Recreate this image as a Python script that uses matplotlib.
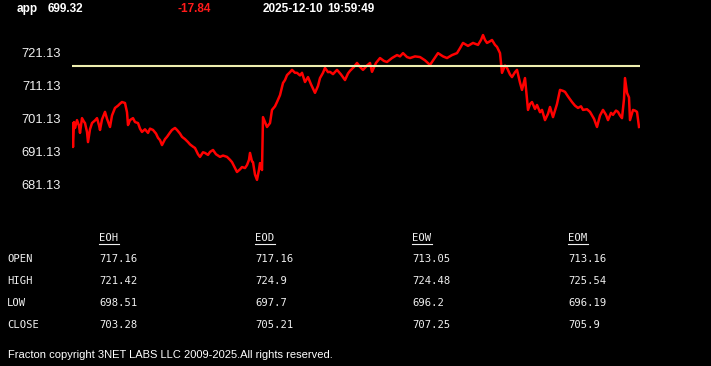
import matplotlib
matplotlib.use("Agg")
import matplotlib.pyplot as plt
from matplotlib.lines import Line2D

W, H = 711, 366

# header
symbol = "app"
last_price = "699.32"
change = "-17.84"
stamp_date = "2025-12-10"
stamp_time = "19:59:49"

# price trace (time position, price)
t = [72, 73, 74, 75, 77, 79, 80, 82, 84, 85,
     87, 88, 90, 92, 95, 97, 99, 100, 102, 105,
     107, 110, 112, 115, 118, 120, 122, 125, 127, 128,
     130, 133, 135, 138, 140, 142, 145, 148, 150, 153,
     156, 158, 160, 162, 165, 167, 170, 172, 175, 177,
     180, 182, 185, 188, 190, 193, 195, 198, 200, 203,
     205, 208, 210, 213, 216, 220, 223, 227, 230, 232,
     235, 237, 240, 242, 245, 247, 249, 250, 252, 253,
     255, 257, 259, 260, 262, 263, 265, 267, 270, 272,
     275, 277, 280, 283, 285, 287, 290, 292, 295, 297,
     300, 302, 305, 308, 311, 315, 318, 320, 323, 325,
     328, 330, 333, 337, 341, 345, 348, 350, 354, 357,
     360, 363, 367, 370, 372, 376, 380, 384, 387, 392,
     397, 400, 403, 407, 410, 415, 420, 425, 430, 434,
     438, 443, 447, 452, 457, 460, 463, 468, 473, 478,
     481, 483, 485, 487, 490, 492, 495, 497, 500, 502,
     505, 507, 510, 512, 515, 517, 520, 522, 525, 528,
     530, 532, 535, 537, 540, 542, 545, 548, 550, 553,
     557, 560, 563, 565, 568, 572, 575, 578, 581, 583,
     587, 590, 594, 597, 600, 603, 606, 608, 611, 613,
     616, 618, 620, 622, 624, 625, 627, 629, 630, 633,
     635, 637, 639]

price = [699.5, 692.4, 700.0, 698.2, 700.6, 698.9, 696.7, 701.2, 700.1, 699.7,
         697.0, 693.9, 697.8, 699.7, 700.5, 701.2, 699.0, 697.6, 700.8, 703.1,
         701.0, 698.5, 702.0, 704.3, 705.0, 705.6, 706.1, 705.8, 703.0, 699.1,
         700.6, 701.2, 700.0, 699.7, 698.0, 697.0, 697.8, 696.7, 698.0, 697.6,
         696.5, 695.2, 694.5, 693.0, 694.8, 695.5, 696.8, 697.6, 698.2, 697.6,
         696.5, 695.5, 694.8, 693.9, 693.2, 692.5, 692.1, 690.2, 689.4, 690.8,
         690.6, 690.0, 690.9, 691.5, 690.2, 689.4, 689.8, 689.4, 688.5, 687.8,
         686.0, 684.8, 685.6, 686.3, 686.0, 686.9, 688.5, 690.6, 688.0, 687.8,
         684.0, 682.4, 685.5, 687.5, 685.4, 701.5, 700.0, 698.5, 699.7, 703.7,
         704.8, 706.1, 708.2, 711.9, 712.8, 714.3, 715.2, 715.9, 715.0, 715.0,
         714.2, 715.0, 712.2, 713.7, 711.5, 708.9, 711.0, 713.4, 715.0, 716.5,
         715.2, 715.3, 714.6, 715.9, 714.5, 712.8, 714.8, 715.6, 716.8, 718.0,
         716.8, 715.9, 717.2, 718.0, 715.3, 718.0, 719.5, 718.6, 718.3, 719.5,
         720.4, 720.0, 721.0, 719.8, 719.5, 720.0, 719.8, 718.8, 717.4, 719.2,
         721.0, 720.0, 719.5, 720.4, 721.0, 722.5, 724.1, 723.2, 724.1, 723.5,
         725.0, 726.5, 725.0, 724.1, 724.6, 725.0, 723.5, 722.9, 721.0, 715.0,
         717.2, 716.5, 714.5, 713.7, 715.2, 715.9, 712.0, 709.8, 713.4, 703.7,
         705.5, 706.1, 704.0, 705.2, 703.0, 703.7, 700.6, 702.5, 704.6, 701.5,
         705.5, 709.8, 709.5, 709.2, 707.8, 706.1, 705.0, 704.3, 704.8, 703.7,
         703.9, 703.1, 701.0, 698.5, 702.0, 703.7, 702.2, 700.6, 702.8, 702.2,
         703.5, 703.1, 702.0, 701.2, 707.0, 713.4, 708.9, 707.5, 700.6, 703.7,
         703.5, 703.1, 698.5]

ref_level = 717.16
yticks = [681.13, 691.13, 701.13, 711.13, 721.13]

# summary table
col_names = ["EOH", "EOD", "EOW", "EOM"]
row_names = ["OPEN", "HIGH", "LOW", "CLOSE"]
table = [["717.16", "717.16", "713.05", "713.16"],
         ["721.42", "724.9", "724.48", "725.54"],
         ["698.51", "697.7", "696.2", "696.19"],
         ["703.28", "705.21", "707.25", "705.9"]]

footer = "Fracton copyright 3NET LABS LLC 2009-2025.All rights reserved."


def fx(x):
    return x / W


def fy(y):
    return 1 - y / H


fig = plt.figure(figsize=(W / 100, H / 100), dpi=100, facecolor="black")

ax = fig.add_axes([fx(72), fy(190), (640 - 72) / W, (190 - 32) / H])
ax.set_facecolor("black")
ax.plot(t, price, color="#ff0000", linewidth=1.8)
ax.axhline(ref_level, color="#eeeeb0", linewidth=1.5)
ax.set_xlim(72, 640)
ax.set_ylim(679.31, 727.43)
ax.set_xticks([])
ax.set_yticks(yticks)
ax.set_yticklabels(["%.2f" % v for v in yticks])
ax.tick_params(axis="y", length=0, pad=8, labelcolor="#f0f0f0", labelsize=9.3)
for lab in ax.get_yticklabels():
    lab.set_family(["Liberation Sans", "DejaVu Sans"])
for s in ax.spines.values():
    s.set_visible(False)

hfont = dict(family=["Liberation Sans", "DejaVu Sans"], weight="bold",
             fontsize=8.5, va="center", ha="left")
fig.text(fx(17), fy(9), symbol, color="white", **hfont)
fig.text(fx(48), fy(9), last_price, color="white", **hfont)
fig.text(fx(178), fy(9), change, color="#ff1a1a", **hfont)
fig.text(fx(263), fy(9), stamp_date, color="white", **hfont)
fig.text(fx(327), fy(9), stamp_time, color="white", **hfont)

tfont = dict(family="DejaVu Sans Mono", fontsize=7.6, color="#f0f0f0",
             va="center", ha="left")
col_x = [99, 255, 412, 568]
row_y = [259, 281, 303, 325]
for cx, name in zip(col_x, col_names):
    fig.text(fx(cx), fy(238), name, **tfont)
    fig.add_artist(Line2D([fx(cx), fx(cx + 20)], [fy(243.5), fy(243.5)],
                          color="#f0f0f0", linewidth=0.8))
for ry, rname, vals in zip(row_y, row_names, table):
    fig.text(fx(7), fy(ry), rname, **tfont)
    for cx, v in zip(col_x, vals):
        fig.text(fx(cx), fy(ry), v, **tfont)

fig.text(fx(8), fy(355), footer, family=["Liberation Sans", "DejaVu Sans"],
         fontsize=8, color="white", va="center", ha="left")

fig.savefig("out.png", dpi=100, facecolor="black")
